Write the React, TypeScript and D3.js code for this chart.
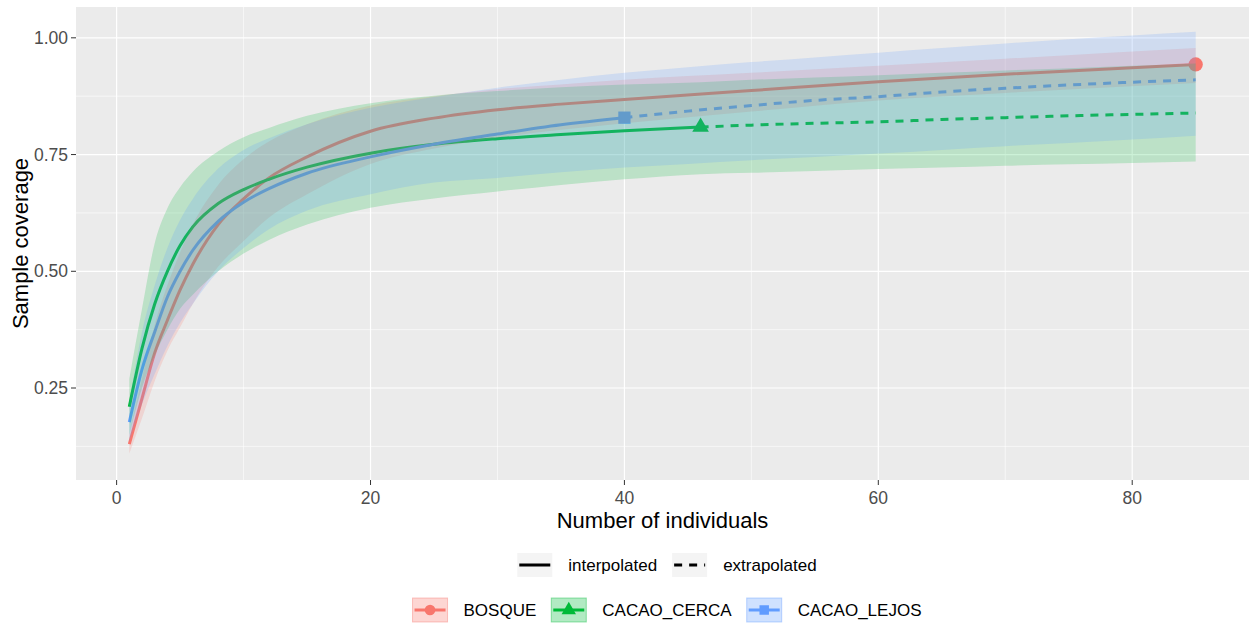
import React, { useRef, useEffect } from "react";
import * as d3 from "d3";

const WIDTH = 1249;
const HEIGHT = 628;

const seriesNames = ["BOSQUE", "CACAO_CERCA", "CACAO_LEJOS"];
const seriesColors = ["#F8766D", "#00BA38", "#619CFF"];
const seriesShapes = [d3.symbolCircle, d3.symbolTriangle, d3.symbolSquare];

// BOSQUE: reference sample = 85, no extrapolation
const bosqueN = [1, 2, 3, 4, 5, 6, 8, 10, 12, 15, 20, 25, 30, 35, 40, 50, 60, 70, 85];
const bosqueEst = [0.13, 0.228, 0.325, 0.395, 0.46, 0.515, 0.6, 0.655, 0.7, 0.745, 0.8, 0.828, 0.846, 0.858, 0.868, 0.887, 0.906, 0.922, 0.943];
const bosqueLo = [0.11, 0.185, 0.265, 0.33, 0.38, 0.43, 0.51, 0.565, 0.615, 0.665, 0.73, 0.763, 0.786, 0.803, 0.817, 0.842, 0.866, 0.882, 0.903];
const bosqueHi = [0.15, 0.27, 0.385, 0.47, 0.54, 0.6, 0.685, 0.74, 0.778, 0.815, 0.855, 0.875, 0.89, 0.9, 0.91, 0.925, 0.94, 0.955, 0.978];

// CACAO_CERCA: reference sample = 46
const cercaN = [1, 2, 3, 4, 5, 6, 8, 10, 12, 15, 20, 25, 30, 35, 40, 46, 50, 55, 60, 65, 70, 75, 80, 85];
const cercaEst = [0.21, 0.335, 0.43, 0.5, 0.555, 0.595, 0.645, 0.675, 0.697, 0.723, 0.753, 0.772, 0.784, 0.793, 0.801, 0.809, 0.813, 0.817, 0.82, 0.825, 0.829, 0.833, 0.836, 0.839];
const cercaLo = [0.15, 0.25, 0.32, 0.375, 0.42, 0.45, 0.5, 0.538, 0.567, 0.6, 0.636, 0.656, 0.671, 0.685, 0.697, 0.708, 0.711, 0.715, 0.719, 0.722, 0.726, 0.729, 0.732, 0.735];
const cercaHi = [0.27, 0.42, 0.56, 0.635, 0.68, 0.713, 0.757, 0.787, 0.807, 0.833, 0.86, 0.876, 0.886, 0.894, 0.9, 0.905, 0.91, 0.915, 0.92, 0.925, 0.93, 0.935, 0.94, 0.945];

// CACAO_LEJOS: reference sample = 40
const lejosN = [1, 2, 3, 4, 5, 6, 8, 10, 12, 15, 20, 25, 30, 35, 40, 45, 50, 55, 60, 65, 70, 75, 80, 85];
const lejosEst = [0.177, 0.29, 0.37, 0.445, 0.5, 0.545, 0.607, 0.648, 0.677, 0.71, 0.745, 0.772, 0.794, 0.814, 0.829, 0.843, 0.855, 0.866, 0.874, 0.884, 0.892, 0.899, 0.905, 0.91];
const lejosLo = [0.135, 0.215, 0.28, 0.34, 0.39, 0.43, 0.5, 0.55, 0.59, 0.63, 0.665, 0.69, 0.7, 0.712, 0.722, 0.73, 0.738, 0.745, 0.752, 0.76, 0.768, 0.775, 0.782, 0.79];
const lejosHi = [0.22, 0.37, 0.47, 0.55, 0.61, 0.655, 0.72, 0.76, 0.785, 0.815, 0.85, 0.873, 0.893, 0.91, 0.925, 0.937, 0.948, 0.958, 0.968, 0.978, 0.988, 0.997, 1.005, 1.013];

const observedN = [85, 46, 40];

const xTicks = [0, 20, 40, 60, 80];
const xMinor = [10, 30, 50, 70];
const yTicks = [0.25, 0.5, 0.75, 1.0];
const yMinor = [0.125, 0.375, 0.625, 0.875];

const lineTypeLabels = ["interpolated", "extrapolated"];

const FONT = "'Liberation Sans', Arial, Helvetica, sans-serif";

function buildSeries() {
  const raw = [
    [bosqueN, bosqueEst, bosqueLo, bosqueHi],
    [cercaN, cercaEst, cercaLo, cercaHi],
    [lejosN, lejosEst, lejosLo, lejosHi],
  ];
  return raw.map(([n, est, lo, hi], i) => ({
    name: seriesNames[i],
    color: seriesColors[i],
    shape: seriesShapes[i],
    obs: observedN[i],
    pts: n.map((m, j) => ({ m, est: est[j], lo: lo[j], hi: hi[j] })),
  }));
}

function CoverageChart() {
  const svgRef = useRef(null);

  useEffect(() => {
    const svg = d3.select(svgRef.current);
    svg.selectAll("*").remove();

    const panel = { left: 76, right: 1249, top: 7, bottom: 480 };

    const x = d3.scaleLinear().domain([-3.2, 89.2]).range([panel.left, panel.right]);
    const y = d3.scaleLinear().domain([0.053, 1.066]).range([panel.bottom, panel.top]);

    const series = buildSeries();

    svg.append("rect")
      .attr("x", panel.left).attr("y", panel.top)
      .attr("width", panel.right - panel.left).attr("height", panel.bottom - panel.top)
      .attr("fill", "#EBEBEB");

    svg.append("clipPath").attr("id", "panel-clip")
      .append("rect")
      .attr("x", panel.left).attr("y", panel.top)
      .attr("width", panel.right - panel.left).attr("height", panel.bottom - panel.top);

    // grid
    const grid = svg.append("g");
    grid.selectAll(".xminor").data(xMinor).enter().append("line")
      .attr("x1", d => x(d)).attr("x2", d => x(d))
      .attr("y1", panel.top).attr("y2", panel.bottom)
      .attr("stroke", "#fff").attr("stroke-width", 0.6);
    grid.selectAll(".yminor").data(yMinor).enter().append("line")
      .attr("y1", d => y(d)).attr("y2", d => y(d))
      .attr("x1", panel.left).attr("x2", panel.right)
      .attr("stroke", "#fff").attr("stroke-width", 0.6);
    grid.selectAll(".xmajor").data(xTicks).enter().append("line")
      .attr("x1", d => x(d)).attr("x2", d => x(d))
      .attr("y1", panel.top).attr("y2", panel.bottom)
      .attr("stroke", "#fff").attr("stroke-width", 1.2);
    grid.selectAll(".ymajor").data(yTicks).enter().append("line")
      .attr("y1", d => y(d)).attr("y2", d => y(d))
      .attr("x1", panel.left).attr("x2", panel.right)
      .attr("stroke", "#fff").attr("stroke-width", 1.2);

    const plot = svg.append("g").attr("clip-path", "url(#panel-clip)");

    const line = d3.line()
      .x(d => x(d.m))
      .y(d => y(d.est))
      .curve(d3.curveMonotoneX);

    const area = d3.area()
      .x(d => x(d.m))
      .y0(d => y(d.lo))
      .y1(d => y(d.hi))
      .curve(d3.curveMonotoneX);

    const symbolSize = shape =>
      shape === d3.symbolTriangle ? 120 : shape === d3.symbolSquare ? 150 : 160;

    // observed points
    series.forEach(s => {
      const p = s.pts.find(d => d.m === s.obs);
      plot.append("path")
        .attr("d", d3.symbol().type(s.shape).size(symbolSize(s.shape))())
        .attr("transform", `translate(${x(p.m)},${y(p.est)})`)
        .attr("fill", s.color);
    });

    // interpolated
    series.forEach(s => {
      plot.append("path")
        .datum(s.pts.filter(d => d.m <= s.obs))
        .attr("d", line)
        .attr("fill", "none")
        .attr("stroke", s.color)
        .attr("stroke-width", 3);
    });

    // extrapolated
    series.forEach(s => {
      const ext = s.pts.filter(d => d.m >= s.obs);
      if (ext.length < 2) return;
      plot.append("path")
        .datum(ext)
        .attr("d", line)
        .attr("fill", "none")
        .attr("stroke", s.color)
        .attr("stroke-width", 3)
        .attr("stroke-dasharray", "8,7");
    });

    // confidence ribbons drawn last (on top of the lines)
    series.forEach(s => {
      plot.append("path")
        .datum(s.pts)
        .attr("d", area)
        .attr("fill", s.color)
        .attr("fill-opacity", 0.2);
    });

    // axes
    const axes = svg.append("g").attr("font-family", FONT);
    axes.selectAll(".xt").data(xTicks).enter().append("line")
      .attr("x1", d => x(d)).attr("x2", d => x(d))
      .attr("y1", panel.bottom).attr("y2", panel.bottom + 5)
      .attr("stroke", "#333").attr("stroke-width", 1);
    axes.selectAll(".xl").data(xTicks).enter().append("text")
      .attr("x", d => x(d)).attr("y", panel.bottom + 24)
      .attr("text-anchor", "middle")
      .attr("font-size", 17.5).attr("fill", "#4D4D4D")
      .text(d => d);
    axes.selectAll(".yt").data(yTicks).enter().append("line")
      .attr("y1", d => y(d)).attr("y2", d => y(d))
      .attr("x1", panel.left - 5).attr("x2", panel.left)
      .attr("stroke", "#333").attr("stroke-width", 1);
    axes.selectAll(".yl").data(yTicks).enter().append("text")
      .attr("x", panel.left - 8).attr("y", d => y(d) + 6)
      .attr("text-anchor", "end")
      .attr("font-size", 17.5).attr("fill", "#4D4D4D")
      .text(d => d3.format(".2f")(d));

    axes.append("text")
      .attr("x", (panel.left + panel.right) / 2).attr("y", 528)
      .attr("text-anchor", "middle").attr("font-size", 22).attr("fill", "#000")
      .text("Number of individuals");
    axes.append("text")
      .attr("transform", `translate(28,${(panel.top + panel.bottom) / 2}) rotate(-90)`)
      .attr("text-anchor", "middle").attr("font-size", 22).attr("fill", "#000")
      .text("Sample coverage");

    // legends, laid out from measured text widths and centred
    const lg = svg.append("g").attr("font-family", FONT).attr("font-size", 17);
    const keyW = 35, keyH = 24, keyGap = 16, itemGap = 15, center = 667;

    const layoutRow = (labels, cy, drawKey) => {
      const row = lg.append("g");
      const texts = labels.map(l => row.append("text").attr("fill", "#000").text(l));
      const widths = texts.map(t => t.node().getComputedTextLength());
      const total = d3.sum(widths) + labels.length * (keyW + keyGap) + (labels.length - 1) * itemGap;
      let cx = center - total / 2;
      labels.forEach((l, i) => {
        drawKey(row, i, cx, cy);
        texts[i].attr("x", cx + keyW + keyGap).attr("y", cy + 6);
        cx += keyW + keyGap + widths[i] + itemGap;
      });
    };

    layoutRow(lineTypeLabels, 565, (row, i, kx, cy) => {
      row.append("rect").attr("x", kx).attr("y", cy - keyH / 2)
        .attr("width", keyW).attr("height", keyH).attr("fill", "#F4F4F4");
      row.append("line")
        .attr("x1", kx + 2).attr("x2", kx + keyW - 2)
        .attr("y1", cy).attr("y2", cy)
        .attr("stroke", "#000").attr("stroke-width", 3)
        .attr("stroke-dasharray", i === 1 ? "8,7" : null);
    });

    layoutRow(seriesNames, 610, (row, i, kx, cy) => {
      const s = series[i];
      row.append("rect")
        .attr("x", kx).attr("y", cy - keyH / 2).attr("width", keyW).attr("height", keyH)
        .attr("fill", s.color).attr("fill-opacity", 0.3)
        .attr("stroke", s.color).attr("stroke-opacity", 0.4);
      row.append("line")
        .attr("x1", kx + 2).attr("x2", kx + keyW - 2)
        .attr("y1", cy).attr("y2", cy)
        .attr("stroke", s.color).attr("stroke-width", 3);
      row.append("path")
        .attr("d", d3.symbol().type(s.shape).size(90)())
        .attr("transform", `translate(${kx + keyW / 2},${cy})`)
        .attr("fill", s.color);
    });
  }, []);

  return <svg ref={svgRef} width={WIDTH} height={HEIGHT} style={{ display: "block", background: "#fff" }}></svg>;
}

export default function App() {
  return (
    <div style={{ position: "absolute", left: 0, top: 0 }}>
      <CoverageChart />
    </div>
  );
}
